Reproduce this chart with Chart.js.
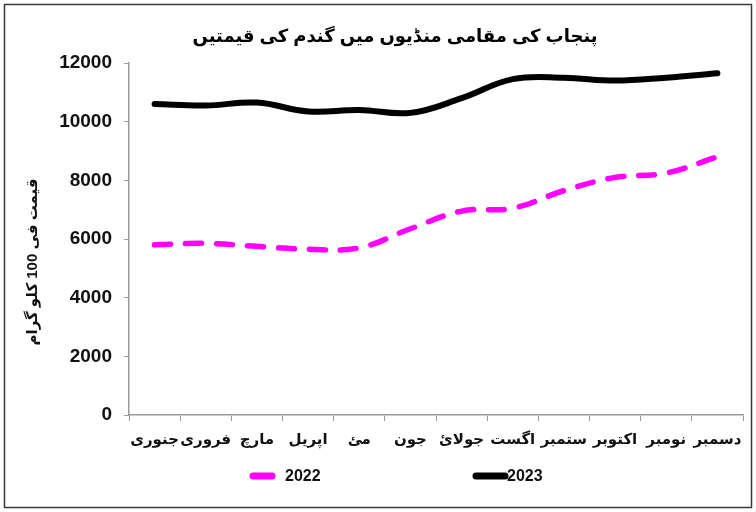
<!DOCTYPE html>
<html>
<head>
<meta charset="utf-8">
<script src="https://cdn.jsdelivr.net/npm/chart.js@4"></script>
<style>
  html, body { margin: 0; padding: 0; background: #fff; }
  #wrap { width: 756px; height: 512px; }
</style>
</head>
<body>
<div id="wrap"><canvas id="wheatChart" width="756" height="512"></canvas></div>
<script>
// Chart data
const months = ['جنوری', 'فروری', 'مارچ', 'اپریل', 'مئ', 'جون', 'جولائ', 'اگست', 'ستمبر', 'اکتوبر', 'نومبر', 'دسمبر'];
const prices2022 = [5800, 5850, 5750, 5650, 5700, 6350, 6950, 7050, 7650, 8100, 8250, 8800];
const prices2023 = [10600, 10550, 10650, 10350, 10400, 10300, 10800, 11450, 11500, 11400, 11500, 11650];
const yTicks = [0, 2000, 4000, 6000, 8000, 10000, 12000];

const chartTitle = 'پنجاب کی مقامی منڈیوں میں گندم کی قیمتیں';
const yAxisTitle = 'قیمت فی 100 کلو گرام';

const baseFont = 'Arial, "Liberation Sans", "DejaVu Sans", sans-serif';

// Outer frame, title, y-axis title and legend
const framePlugin = {
    id: 'frame',
    beforeDraw(chart) {
        const ctx = chart.ctx;
        ctx.save();
        ctx.fillStyle = '#ffffff';
        ctx.fillRect(0, 0, chart.width, chart.height);
        ctx.strokeStyle = '#3a3a3a';
        ctx.lineWidth = 1.5;
        ctx.strokeRect(4.5, 4.5, chart.width - 9, chart.height - 9);
        ctx.restore();
    },
    afterDraw(chart) {
        const ctx = chart.ctx;
        ctx.save();

        // title
        ctx.fillStyle = '#000';
        ctx.font = 'bold 18px ' + baseFont;
        ctx.textAlign = 'center';
        ctx.textBaseline = 'middle';
        ctx.fillText(chartTitle, 395, 37);

        // y axis title
        ctx.save();
        ctx.translate(33, 262);
        ctx.rotate(-Math.PI / 2);
        ctx.font = 'bold 15px ' + baseFont;
        ctx.fillStyle = '#111';
        ctx.fillText(yAxisTitle, 0, 0);
        ctx.restore();

        // legend
        const items = [
            { ds: chart.data.datasets[0], x0: 253, x1: 272, tx: 285 },
            { ds: chart.data.datasets[1], x0: 476, x1: 505, tx: 507 }
        ];
        const y = 476;
        items.forEach(it => {
            ctx.strokeStyle = it.ds.borderColor;
            ctx.lineWidth = 7;
            ctx.lineCap = 'round';
            ctx.beginPath();
            ctx.moveTo(it.x0, y);
            ctx.lineTo(it.x1, y);
            ctx.stroke();
            ctx.fillStyle = '#111';
            ctx.font = 'bold 16px ' + baseFont;
            ctx.textBaseline = 'middle';
            ctx.textAlign = 'left';
            ctx.fillText(it.ds.label, it.tx, y + 1);
        });
        ctx.restore();
    }
};

const ctx = document.getElementById('wheatChart').getContext('2d');

new Chart(ctx, {
    type: 'line',
    data: {
        labels: months,
        datasets: [
            {
                label: '2022',
                data: prices2022,
                borderColor: '#FF00FF',
                borderWidth: 5.5,
                borderDash: [16, 15],
                borderCapStyle: 'round',
                tension: 0.4,
                pointRadius: 0,
                fill: false
            },
            {
                label: '2023',
                data: prices2023,
                borderColor: '#000000',
                borderWidth: 6,
                borderCapStyle: 'round',
                tension: 0.4,
                pointRadius: 0,
                fill: false
            }
        ]
    },
    options: {
        responsive: false,
        animation: false,
        devicePixelRatio: 1,
        layout: {
            padding: { top: 63, left: 8, right: 13, bottom: 47 }
        },
        plugins: {
            legend: { display: false },
            tooltip: { enabled: false },
            title: { display: false }
        },
        scales: {
            x: {
                offset: true,
                grid: {
                    offset: true,
                    drawOnChartArea: false,
                    drawTicks: true,
                    tickLength: 6,
                    color: '#9a9a9a'
                },
                border: { color: '#9a9a9a', width: 1.5 },
                ticks: {
                    color: '#111',
                    maxRotation: 0,
                    autoSkip: false,
                    padding: 10,
                    font: { family: baseFont, size: 15, weight: 'bold' }
                },
                afterFit(scale) { scale.height = 50; }
            },
            y: {
                min: 0,
                max: 12000,
                afterBuildTicks(scale) {
                    scale.ticks = yTicks.map(v => ({ value: v }));
                },
                grid: {
                    drawOnChartArea: false,
                    drawTicks: true,
                    tickLength: 5,
                    color: '#9a9a9a'
                },
                border: { color: '#9a9a9a', width: 1.5 },
                ticks: {
                    color: '#111',
                    padding: 12,
                    font: { family: baseFont, size: 19, weight: 'bold' },
                    callback: (value) => String(value)
                },
                afterFit(scale) { scale.width = 121; }
            }
        }
    },
    plugins: [framePlugin]
});
</script>
</body>
</html>
